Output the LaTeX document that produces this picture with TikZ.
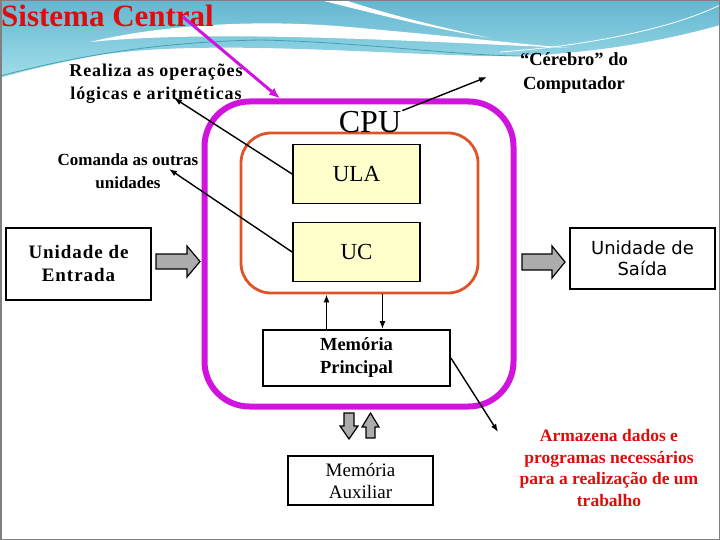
\documentclass[tikz,border=0pt]{standalone}
\usepackage{fontspec}
\setmainfont{Liberation Serif}
\newfontfamily\comicfont{DejaVu Sans}
\newfontfamily\spacedserif[LetterSpace=5]{Liberation Serif}
\usetikzlibrary{arrows.meta, positioning, calc}

\definecolor{cpumag}{RGB}{208,20,222}
\definecolor{coreorange}{RGB}{222,84,40}
\definecolor{ulafill}{RGB}{255,255,204}
\definecolor{titlered}{RGB}{222,12,12}
\definecolor{bandtop}{RGB}{100,182,208}
\definecolor{bandlow}{RGB}{160,222,234}
\definecolor{bandline}{RGB}{70,160,180}
\definecolor{arrowgray}{RGB}{172,172,172}

\begin{document}
\begin{tikzpicture}[x=1pt, y=-1pt,
  unitbox/.style={draw, line width=2.6pt, fill=white, align=center, minimum width=145pt},
  corebox/.style={draw, line width=1.8pt, fill=ulafill, minimum width=127pt, minimum height=59pt, font=\fontsize{23}{26}\selectfont},
  memobox/.style={draw, line width=1.8pt, fill=white, align=center},
  note/.style={align=center, font=\fontsize{17}{22.5}\selectfont\bfseries},
  pointer/.style={-{Latex[length=8pt,width=6pt]}, line width=1.4pt},
  blockarrow/.style={draw, line width=1.2pt, fill=arrowgray}]
  \useasboundingbox (0,0) rectangle (720,540);
  % background band
  \shade[top color=bandtop, bottom color=bandlow] (0,0) -- (720,0) -- (720,25)
    .. controls (650,45) and (560,58) .. (480,56)
    .. controls (350,52) and (200,40) .. (100,55)
    .. controls (60,62) and (20,72) .. (0,78) -- cycle;
  \fill[white] (90,42) .. controls (160,25) and (260,18) .. (360,28)
    .. controls (450,36) and (520,44) .. (570,48)
    .. controls (480,44) and (400,40) .. (330,38)
    .. controls (230,35) and (150,36) .. (90,42) -- cycle;
  \fill[white] (320,0) .. controls (380,15) and (430,28) .. (490,38)
    .. controls (430,25) and (380,12) .. (345,0) -- cycle;
  \draw[bandline, line width=0.8pt] (0,76) .. controls (80,55) and (160,42) .. (260,40)
    .. controls (360,42) and (450,55) .. (520,56);
  \draw[white, line width=0.8pt] (500,52) .. controls (600,45) and (680,25) .. (720,5);
  \draw[gray, line width=1.5pt] (0.75,0.75) rectangle (719.25,539.25);

  % CPU containers
  \node[draw=cpumag, line width=6pt, rounded corners=45pt, minimum width=309pt, minimum height=305pt] (cpubox) at (359,254) {};
  \node[draw=coreorange, line width=2.8pt, rounded corners=30pt, minimum width=237pt, minimum height=160pt] (core) at (359.5,213) {};
  \node[anchor=base, font=\fontsize{32}{34}\selectfont, inner sep=1pt] (cpulbl) at (370,133) {CPU};
  \node[corebox] (ula) at (356.5,174) {ULA};
  \node[corebox] (uc) at (356.5,252) {UC};

  % memories
  \node[memobox, minimum width=187pt, minimum height=56pt, font=\fontsize{18.5}{23}\selectfont\bfseries] (mp) at (356.5,358) {Memória\\Principal};
  \node[memobox, line width=2.2pt, minimum width=145pt, minimum height=49pt, font=\fontsize{19}{22}\selectfont] (ma) at (360.5,480.5) {Memória\\Auxiliar};

  % input and output units
  \node[unitbox, minimum height=72pt, font=\fontsize{19}{23}\selectfont\spacedserif\bfseries] (ent) at (78.5,264) {Unidade de\\Entrada};
  \node[unitbox, minimum height=61pt, font=\fontsize{18}{21}\selectfont\comicfont] (sai) at (642.5,258.5) {Unidade de\\Saída};

  % labels
  \node[anchor=base west, inner sep=0pt, text=titlered, font=\fontsize{31}{34}\selectfont\bfseries] (title) at (1,27) {Sistema Central};
  \node[note, font=\fontsize{18}{23}\selectfont\spacedserif\bfseries] (ops) at (156,84) {Realiza as operações\\lógicas e aritméticas};
  \node[note] (cmd) at (128,171) {Comanda as outras\\unidades};
  \node[note, font=\fontsize{18.5}{24}\selectfont\bfseries] (brain) at (574,73) {“Cérebro” do\\Computador};
  \node[note, text=titlered, font=\fontsize{17.5}{21.5}\selectfont\bfseries] (store) at (609,468) {Armazena dados e\\programas necessários\\para a realização de um\\trabalho};

  % block arrows
  \draw[blockarrow] (156,254) -- (187,254) -- (187,246) -- (200,261.5) -- (187,277) -- (187,269) -- (156,269) -- cycle;
  \draw[blockarrow] (522,254) -- (552,254) -- (552,246) -- (565,262) -- (552,278) -- (552,270) -- (522,270) -- cycle;
  \draw[blockarrow] (344,413) -- (354,413) -- (354,426) -- (358,426) -- (349,439) -- (340,426) -- (344,426) -- cycle;
  \draw[blockarrow] (366,438) -- (375,438) -- (375,427) -- (379,427) -- (370.5,413) -- (362,427) -- (366,427) -- cycle;

  % pointers
  \coordinate (opsend) at (174,98);
  \coordinate (cmdend) at (169,169);
  \coordinate (brainend) at (487,77);
  \coordinate (storeend) at (498,432);
  \draw[-{Latex[length=11pt,width=9pt]}, cpumag, line width=3pt] ([xshift=-31pt, yshift=10pt]title.base east) -- ([xshift=-79pt]cpubox.north);
  \draw[pointer] (ula.west) -- (opsend);
  \draw[pointer] (uc.west) -- (cmdend);
  \draw[pointer] (cpulbl.north east) -- (brainend);
  \draw[pointer] (mp.east) -- (storeend);
  \draw[pointer] ([xshift=-30pt]mp.north) -- ([xshift=-30pt]mp.north |- core.south);
  \draw[pointer] ([xshift=26pt]mp.north |- core.south) -- ([xshift=26pt]mp.north);
\end{tikzpicture}
\end{document}
